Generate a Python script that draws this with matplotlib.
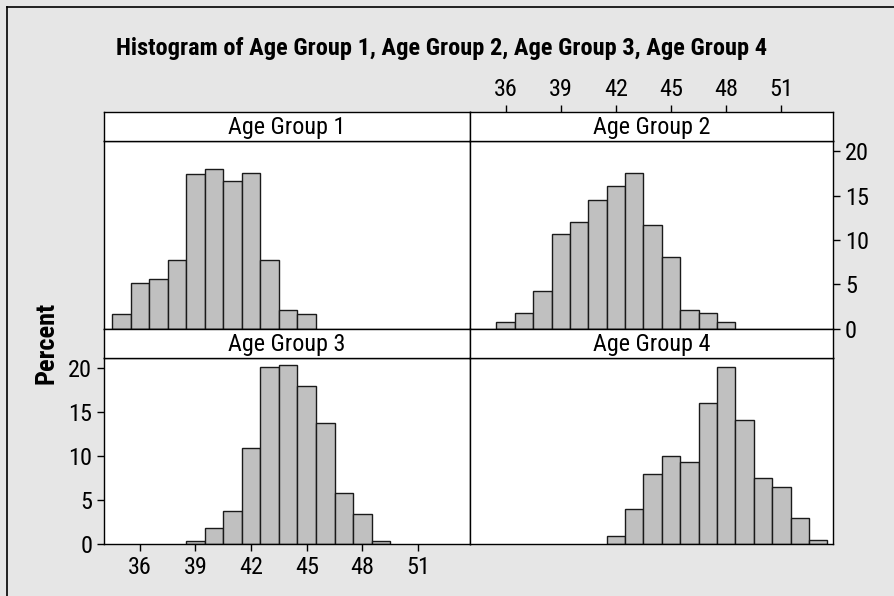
import matplotlib
matplotlib.use("Agg")
import matplotlib.pyplot as plt
from matplotlib.lines import Line2D
import numpy as np

plt.rcParams['font.family'] = ['Roboto Condensed', 'Barlow Semi Condensed', 'DejaVu Sans']

# histogram data (bin centres, percent)
group_names = ["Age Group 1", "Age Group 2", "Age Group 3", "Age Group 4"]
centres1 = np.arange(35, 46)
pct1 = [1.7, 5.2, 5.6, 7.7, 17.5, 18.0, 16.7, 17.6, 7.7, 2.1, 1.7]
centres2 = np.arange(36, 49)
pct2 = [0.7, 1.8, 4.2, 10.7, 12.0, 14.5, 16.1, 17.6, 11.7, 8.1, 2.1, 1.8, 0.7]
centres3 = np.arange(39, 50)
pct3 = [0.4, 1.8, 3.8, 10.9, 20.1, 20.4, 18.0, 13.8, 5.8, 3.4, 0.4]
centres4 = np.arange(42, 54)
pct4 = [0.9, 4.0, 8.0, 10.0, 9.4, 16.1, 20.2, 14.1, 7.5, 6.5, 3.0, 0.5]
x_ticks = [36, 39, 42, 45, 48, 51]
y_ticks = [0, 5, 10, 15, 20]

W, H = 895, 596
bg = "#e6e6e6"
fig = plt.figure(figsize=(W / 100, H / 100), dpi=100, facecolor=bg)


def px_axes(x0, y0, x1, y1):
    # pixel box (top-left origin) -> figure axes
    return fig.add_axes([x0 / W, 1 - y1 / H, (x1 - x0) / W, (y1 - y0) / H])


xl, xm, xr = 104, 470, 833
rows = [(111.7, 140.7, 328.7), (328.7, 357.7, 544.3)]
data = [(centres1, pct1), (centres2, pct2), (centres3, pct3), (centres4, pct4)]
xlim = (34.07, 53.8)
ylim = (0, 21.2)
tick_fs = 17.5

for i in range(4):
    r, c = divmod(i, 2)
    s0, s1, p1 = rows[r]
    x0, x1 = (xl, xm) if c == 0 else (xm, xr)
    ax = px_axes(x0, s1, x1, p1)
    strip = px_axes(x0, s0, x1, s1)
    centres, pct = data[i]
    ax.bar(centres, pct, width=1.0, color="#c0c0c0", edgecolor="#1a1a1a", linewidth=1.0)
    ax.set_xlim(*xlim)
    ax.set_ylim(*ylim)
    ax.set_facecolor("white")
    for sp in ax.spines.values():
        sp.set_linewidth(1.0)
    ax.tick_params(length=5, width=1, labelsize=tick_fs, pad=3.5)
    ax.set_xticks([])
    ax.set_yticks([])

    strip.set_xlim(*xlim)
    strip.set_facecolor("white")
    strip.set_xticks([])
    strip.set_yticks([])
    strip.text(0.5, 0.47, group_names[i], transform=strip.transAxes,
               ha="center", va="center", fontsize=17.4)
    for sp in strip.spines.values():
        sp.set_linewidth(1.0)

    if i == 1:
        ax.yaxis.tick_right()
        ax.set_yticks(y_ticks)
        strip.xaxis.tick_top()
        strip.set_xticks(x_ticks)
        strip.tick_params(length=5, width=1, labelsize=tick_fs, pad=3)
    if i == 2:
        ax.set_yticks(y_ticks)
        ax.set_xticks(x_ticks)

fig.text(442 / W, 1 - 48 / H, "Histogram of " + ", ".join(group_names),
         ha="center", va="center", fontsize=17.6, fontweight="bold")
fig.text(47 / W, 1 - 343 / H, "Percent", rotation=90, ha="center", va="center",
         fontsize=19, fontweight="bold")

# frame lines on the left and top of the picture
fig.add_artist(Line2D([7 / W, 7 / W], [0, 1 - 7 / H], color="black", linewidth=1.2))
fig.add_artist(Line2D([7 / W, 1], [1 - 7 / H, 1 - 7 / H], color="black", linewidth=1.2))

fig.savefig("out.png", dpi=100, facecolor=bg)
